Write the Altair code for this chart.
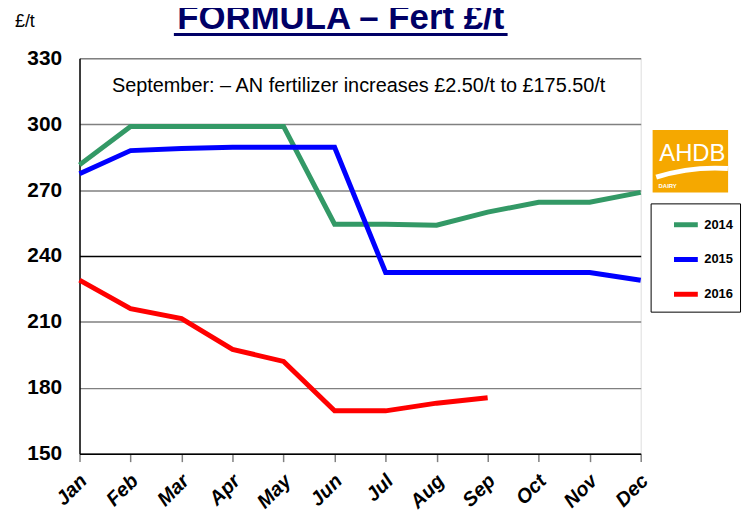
import altair as alt
import pandas as pd

months = ["Jan", "Feb", "Mar", "Apr", "May", "Jun", "Jul", "Aug", "Sep", "Oct", "Nov", "Dec"]
v2014 = [281.5, 299, 299, 299, 299, 254.5, 254.5, 254, 260, 264.5, 264.5, 269]
v2015 = [277.5, 288, 289, 289.5, 289.5, 289.5, 232.5, 232.5, 232.5, 232.5, 232.5, 229]
v2016 = [229, 216, 211.5, 197.5, 192, 169.5, 169.5, 173, 175.5]
years = ["2014", "2015", "2016"]
colors = ["#339966", "#0000FF", "#FF0000"]
y_ticks = [150, 180, 210, 240, 270, 300, 330]

title_text = "FORMULA – Fert £/t"
note_text = "September: – AN fertilizer increases £2.50/t to £175.50/t"
unit_text = "£/t"

rows = []
for yr, vals in zip(years, (v2014, v2015, v2016)):
    for m, v in zip(months, vals):
        rows.append({"month": m, "value": v, "year": yr})
df = pd.DataFrame(rows)

SANS = "'Liberation Sans', Arial, sans-serif"

lines = alt.Chart(df).mark_line(strokeWidth=5, strokeJoin="miter").encode(
    x=alt.X("month:O", sort=months,
            scale=alt.Scale(type="point", padding=0),
            axis=alt.Axis(title=None, labelAngle=-45, labelAlign="right", labelBaseline="middle",
                          labelFont=SANS, labelFontSize=20, labelFontWeight="bold",
                          labelFontStyle="italic", labelColor="black", labelPadding=16,
                          labelOffset=4, labelOverlap=False, tickColor="#808080", tickSize=8,
                          tickWidth=1.5, domainColor="black", domainWidth=1.5, grid=False)),
    y=alt.Y("value:Q",
            scale=alt.Scale(domain=[150, 330], nice=False, zero=False),
            axis=alt.Axis(title=None, values=y_ticks, ticks=False, labelPadding=18,
                          labelFont=SANS, labelFontSize=21, labelFontWeight="bold",
                          labelColor="black", domainColor="black", domainWidth=1.5,
                          grid=True, gridWidth=1.5,
                          gridColor={"condition": {"test": "datum.value === 240", "value": "#000000"},
                                     "value": "#808080"})),
    color=alt.Color("year:N", scale=alt.Scale(domain=years, range=colors),
                    legend=alt.Legend(title=None, orient="none", legendX=575, legendY=146,
                                      strokeColor="black", fillColor="white", padding=7,
                                      symbolType="stroke", symbolSize=576, symbolStrokeWidth=5,
                                      symbolOffset=14, rowPadding=10, labelOffset=4,
                                      labelFont=SANS, labelFontSize=13, labelFontWeight="bold",
                                      labelColor="black")),
)

one = pd.DataFrame({"a": [0]})

title = alt.Chart(pd.DataFrame({"t": [title_text]})).mark_text(
    font=SANS, fontSize=35, fontWeight="bold", color="#000066", align="center",
    baseline="alphabetic").encode(x=alt.value(263), y=alt.value(-30), text="t:N")

underline = alt.Chart(one).mark_rule(color="#000066", strokeWidth=3).encode(
    x=alt.value(95), x2=alt.value(431), y=alt.value(-24))

note = alt.Chart(pd.DataFrame({"t": [note_text]})).mark_text(
    font=SANS, fontSize=20, color="black", align="center", baseline="middle").encode(
    x=alt.value(281), y=alt.value(28), text="t:N")

unit = alt.Chart(pd.DataFrame({"t": [unit_text]})).mark_text(
    font=SANS, fontSize=18, color="black", align="center", baseline="middle").encode(
    x=alt.value(-55), y=alt.value(-37), text="t:N")

logo_bg = alt.Chart(one).mark_rect(color="#F5A800").encode(
    x=alt.value(577), x2=alt.value(653), y=alt.value(72), y2=alt.value(135))

logo_txt = alt.Chart(pd.DataFrame({"t": ["AHDB"]})).mark_text(
    font=SANS, fontSize=24, color="white", align="center", baseline="alphabetic").encode(
    x=alt.value(617), y=alt.value(103), text="t:N")

logo_swoosh = alt.Chart(one).mark_arc(theta=5.978, theta2=6.348, radius=200, radius2=195,
                                      color="white").encode(
    x=alt.value(640), y=alt.value(308))

logo_dairy = alt.Chart(pd.DataFrame({"t": ["DAIRY"]})).mark_text(
    font=SANS, fontSize=6, fontWeight="bold", color="white", align="left",
    baseline="alphabetic").encode(x=alt.value(583), y=alt.value(131), text="t:N")

chart = alt.layer(lines, title, underline, note, unit, logo_bg, logo_swoosh, logo_txt,
                  logo_dairy).properties(
    width=565, height=398,
    autosize=alt.AutoSizeParams(type="none"),
    padding={"left": 72, "top": 49, "right": 103, "bottom": 56},
).configure_view(stroke="#555555", strokeWidth=1).configure(background="white")

chart.save("out.html", embed_options={"renderer": "svg", "actions": False})
